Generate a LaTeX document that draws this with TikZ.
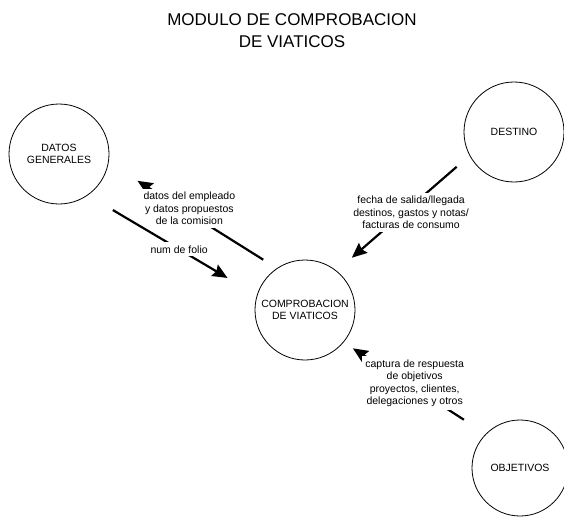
\documentclass[tikz,border=0pt]{standalone}
\usepackage{fontspec}
\setmainfont{Liberation Sans}
\usetikzlibrary{arrows.meta}

\begin{document}
\begin{tikzpicture}[x=1pt,y=-1pt]

\tikzset{vertex/.style = {shape=circle,draw,line width=0.8pt,minimum size=100pt,inner sep=0pt,align=center,font=\fontsize{10.5}{12}\selectfont}}
\tikzset{edge/.style = {-{Stealth[length=15pt,width=13pt,inset=2pt]},line width=2.2pt}}
\tikzset{lbl/.style = {fill=white,inner sep=3pt,align=center,font=\fontsize{10.5}{12.5}\selectfont}}

\clip (0,0) rectangle (564,516);
%title
\node[align=center,font=\fontsize{17}{22}\selectfont] (title) at (292,31) {MODULO DE COMPROBACION\\DE VIATICOS};
%verticies
\node[vertex] (datos) at (59,154) {DATOS\\GENERALES};
\node[vertex] (destino) at (514,132) {DESTINO};
\node[vertex] (comp) at (305,310) {COMPROBACION\\DE VIATICOS};
\node[vertex, minimum size=96pt] (obj) at (520,468) {OBJETIVOS};
%edges
\draw [edge, shorten <=16pt, shorten >=34pt] (comp.124) -- node [lbl, pos=0.52, yshift=5pt] {datos del empleado\\y datos propuestos\\de la comision} (datos.-10);
\draw [edge, shorten <=29pt, shorten >=34pt] (datos.-55) -- node [lbl, pos=0.54] {num de folio} (comp.163);
\draw [edge, shorten <=17pt, shorten >=20pt] (destino.208) -- node [lbl, pos=0.44, yshift=-6pt] {fecha de salida/llegada\\destinos, gastos y notas/\\facturas de consumo} (comp.51);
\draw [edge, shorten <=26pt, shorten >=11pt] (obj.135) -- node [lbl, pos=0.5, yshift=5pt] {captura de respuesta\\de objetivos\\proyectos, clientes,\\delegaciones y otros} (comp.-40);

\end{tikzpicture}
\end{document}
